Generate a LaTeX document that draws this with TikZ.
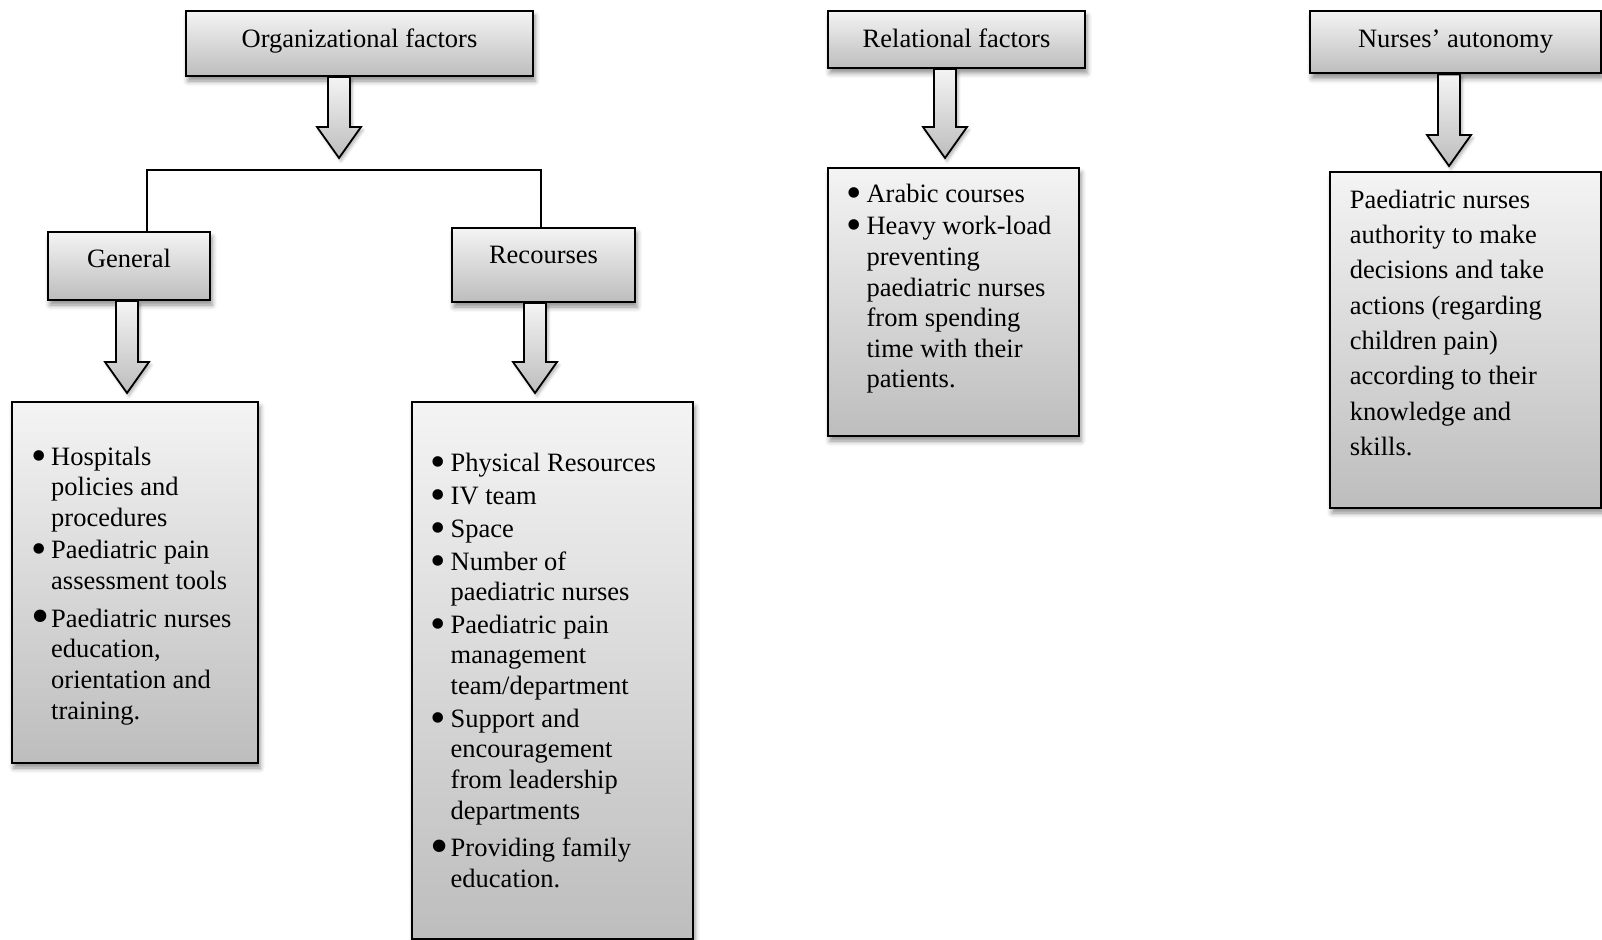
\documentclass[tikz,border=0pt]{standalone}
\usepackage{fontspec}
\setmainfont{Liberation Serif}
\usetikzlibrary{calc,shadows.blur}

\definecolor{boxtop}{HTML}{F4F4F4}
\definecolor{boxbot}{HTML}{BDBDBD}

\tikzset{
  panel/.style={draw=black, line width=2pt, top color=boxtop, bottom color=boxbot,
    inner sep=0pt, anchor=north west,
    blur shadow={shadow xshift=2pt, shadow yshift=-5pt, shadow blur radius=5pt, shadow opacity=45}},
  head/.style={panel, font=\fontsize{26.5}{30.6}\selectfont},
  blockarrow/.style={draw=black, line width=1.8pt, top color=boxtop, bottom color=boxbot,
    line join=miter,
    blur shadow={shadow xshift=2pt, shadow yshift=-3pt, shadow blur radius=3pt, shadow opacity=30}},
  listtext/.style={inner sep=0pt, anchor=base west, font=\fontsize{26.5}{30.6}\selectfont},
  paratext/.style={inner sep=0pt, anchor=base west, font=\fontsize{26.5}{35.3}\selectfont},
  bracket/.style={draw=black, line width=2pt},
}

% bullet cell of a given width, with a bold round dot (kept out of the line height)
\newcommand\bu[1]{\makebox[#1pt][l]{\smash{\raisebox{-5pt}{\fontsize{44}{44}\selectfont\textbullet}}}}
% slightly larger dot for some items
\newcommand\bigbu[1]{\makebox[#1pt][l]{\smash{\raisebox{-6.4pt}{\fontsize{52}{52}\selectfont\textbullet}}}}
% two-column bullet list, first row baseline is the list baseline
\newcommand\blist[1]{\begin{tabular}[t]{@{}l@{}l@{}}#1\end{tabular}}
% block arrow: source node, target point, x position, gap before target
\newcommand\fatarrow[4]{%
  \path[blockarrow] let \p1=(#1.south), \p2=(#2) in
    ({#3pt-11pt},\y1) -- ({#3pt+11pt},\y1) -- ({#3pt+11pt},{\y2+#4pt+31pt})
    -- ({#3pt+22pt},{\y2+#4pt+31pt}) -- (#3pt,{\y2+#4pt})
    -- ({#3pt-22pt},{\y2+#4pt+31pt}) -- ({#3pt-11pt},{\y2+#4pt+31pt}) -- cycle;}

\begin{document}
\begin{tikzpicture}[x=1pt,y=-1pt]
\useasboundingbox (0,0) rectangle (1602,939);

% ---- heading boxes ----
\node[head, minimum width=347pt, text height=37pt, text depth=28pt] (org) at (185,10) {Organizational factors};
\node[head, minimum width=257pt, text height=37pt, text depth=20pt] (rel) at (827,10) {Relational factors};
\node[head, minimum width=291pt, text height=37pt, text depth=25.5pt] (aut) at (1309,10) {Nurses’ autonomy};
\node[head, minimum width=162pt, text height=35.5pt, text depth=32.5pt] (gen) at (47,231) {General};
\node[head, minimum width=183pt, text height=35.5pt, text depth=38.5pt] (rec) at (451,227) {Recourses};

% ---- content boxes ----
\node[panel, minimum width=246pt, minimum height=361pt] (genbox) at (11,401) {};
\node[panel, minimum width=281pt, minimum height=537pt] (recbox) at (411,401) {};
\node[panel, minimum width=251pt, minimum height=268pt] (relbox) at (827,167) {};
\node[panel, minimum width=271pt, minimum height=336pt] (autbox) at (1329,171) {};

% ---- bracket under the organizational heading ----
\coordinate (barL) at (147,170);
\coordinate (barR) at (541,170);
\draw[bracket] (gen.north -| barL) -- (barL) -- (barR) -- (rec.north -| barR);

% ---- block arrows ----
\fatarrow{org}{barL}{339}{12}
\fatarrow{gen}{genbox.north}{127}{8}
\fatarrow{rec}{recbox.north}{535}{8}
\fatarrow{rel}{relbox.north}{945}{9}
\fatarrow{aut}{autbox.north}{1449}{5}

% ---- box texts ----
\node[listtext] (gentext) at (31,465) {\blist{%
  \bu{20} & Hospitals\\
          & policies and\\
          & procedures\\[2.1pt]
  \bu{20} & Paediatric pain\\
          & assessment tools\\[7.2pt]
  \bigbu{20} & Paediatric nurses\\
          & education,\\
          & orientation and\\
          & training.}};

\node[listtext] (rectext) at (430.5,471.9) {\blist{%
  \bu{20} & Physical Resources\\[2.1pt]
  \bu{20} & IV team\\[2.1pt]
  \bu{20} & Space\\[2.1pt]
  \bu{20} & Number of\\
          & paediatric nurses\\[2.1pt]
  \bu{20} & Paediatric pain\\
          & management\\
          & team/department\\[2.1pt]
  \bu{20} & Support and\\
          & encouragement\\
          & from leadership\\
          & departments\\[7.2pt]
  \bigbu{20} & Providing family\\
          & education.}};

\node[listtext] (reltext) at (846.4,202.1) {\blist{%
  \bu{20} & Arabic courses\\[2.1pt]
  \bu{20} & Heavy work-load\\
          & preventing\\
          & paediatric nurses\\
          & from spending\\
          & time with their\\
          & patients.}};

\node[paratext] (auttext) at (1349.7,208.3) {\begin{tabular}[t]{@{}l@{}}
  Paediatric nurses\\
  authority to make\\
  decisions and take\\
  actions (regarding\\
  children pain)\\
  according to their\\
  knowledge and\\
  skills.\end{tabular}};

\end{tikzpicture}
\end{document}
